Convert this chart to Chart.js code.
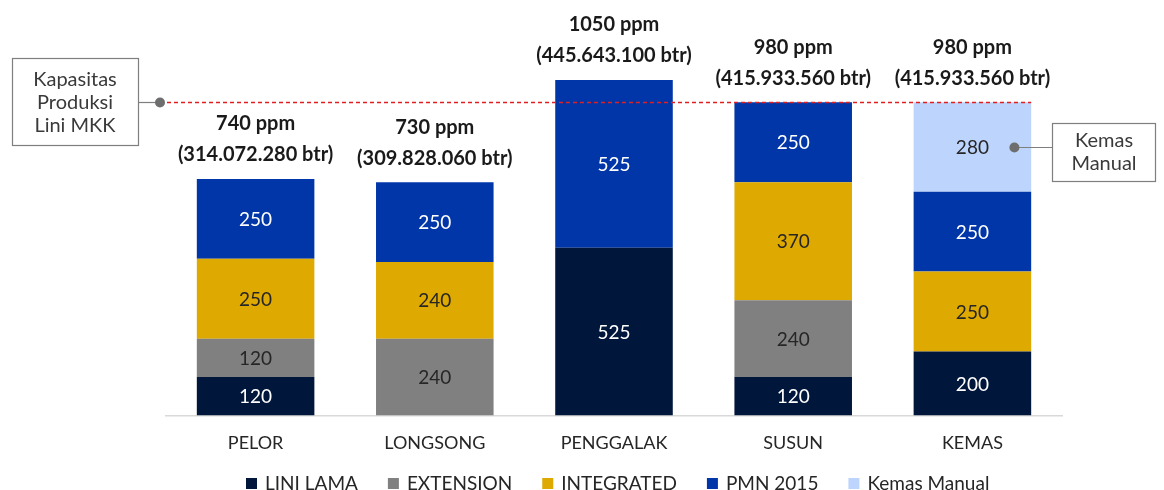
<!DOCTYPE html>
<html>
<head>
<meta charset="utf-8">
<script src="https://cdn.jsdelivr.net/npm/chart.js@4/dist/chart.umd.min.js"></script>
<style>
  html, body { margin: 0; padding: 0; background: #fff; }
  #wrap { width: 1164px; height: 490px; }
</style>
</head>
<body>
<div id="wrap"><canvas id="chart" width="1164" height="490"></canvas></div>
<script>
const categories = ["PELOR", "LONGSONG", "PENGGALAK", "SUSUN", "KEMAS"];
const liniLama = [120, 0, 525, 120, 200];
const extension = [120, 240, 0, 240, 0];
const integrated = [250, 240, 0, 370, 250];
const pmn2015 = [250, 250, 525, 250, 250];
const kemasManual = [0, 0, 0, 0, 280];
const totalLabels = ["740 ppm", "730 ppm", "1050 ppm", "980 ppm", "980 ppm"];
const bottleLabels = ["(314.072.280 btr)", "(309.828.060 btr)", "(445.643.100 btr)", "(415.933.560 btr)", "(415.933.560 btr)"];
const capacityLine = 980;

const FONT = "Lato, 'Open Sans', sans-serif";

const seriesDefs = [
  { label: "LINI LAMA", data: liniLama, color: "#00163a", text: "#ffffff" },
  { label: "EXTENSION", data: extension, color: "#808080", text: "#262626" },
  { label: "INTEGRATED", data: integrated, color: "#dea900", text: "#262626" },
  { label: "PMN 2015", data: pmn2015, color: "#0036a8", text: "#ffffff" },
  { label: "Kemas Manual", data: kemasManual, color: "#bdd5fd", text: "#262626" },
];

// labels inside bars, totals on top, capacity line, callouts and legend
const decorations = {
  id: "decorations",
  afterDatasetsDraw(chart) {
    const ctx = chart.ctx;
    const x = chart.scales.x;
    const y = chart.scales.y;
    ctx.save();
    ctx.textAlign = "center";
    ctx.textBaseline = "middle";

    chart.data.datasets.forEach((ds, i) => {
      const meta = chart.getDatasetMeta(i);
      meta.data.forEach((bar, j) => {
        if (!ds.data[j]) return;
        const mid = (bar.y + bar.base) / 2;
        ctx.font = "19px " + FONT;
        ctx.fillStyle = seriesDefs[i].text;
        ctx.fillText(String(ds.data[j]), bar.x, mid + 1);
      });
    });

    // totals above the stacks
    categories.forEach((c, j) => {
      let total = 0;
      seriesDefs.forEach(s => total += s.data[j]);
      const top = y.getPixelForValue(total);
      const cx = x.getPixelForValue(j);
      ctx.font = "bold 20px " + FONT;
      ctx.fillStyle = "#1a1a1a";
      ctx.fillText(totalLabels[j], cx, top - 55);
      ctx.fillText(bottleLabels[j], cx, top - 24);
    });

    // capacity line
    const ly = Math.round(y.getPixelForValue(capacityLine)) + 0.5;
    const lastMeta = chart.getDatasetMeta(0).data[categories.length - 1];
    const lineEnd = lastMeta.x + lastMeta.width / 2;
    ctx.strokeStyle = "#e02020";
    ctx.lineWidth = 1.3;
    ctx.setLineDash([4, 3]);
    ctx.beginPath();
    ctx.moveTo(160, ly);
    ctx.lineTo(lineEnd, ly);
    ctx.stroke();
    ctx.setLineDash([]);

    // left callout
    ctx.strokeStyle = "#7f7f7f";
    ctx.lineWidth = 1.2;
    ctx.fillStyle = "#ffffff";
    ctx.fillRect(12.5, 58.5, 126, 87);
    ctx.strokeRect(12.5, 58.5, 126, 87);
    ctx.beginPath();
    ctx.moveTo(138.5, ly);
    ctx.lineTo(160, ly);
    ctx.stroke();
    ctx.fillStyle = "#6e6e6e";
    ctx.beginPath();
    ctx.arc(160, ly, 5, 0, Math.PI * 2);
    ctx.fill();
    ctx.font = "20px " + FONT;
    ctx.fillStyle = "#3a3a3a";
    ctx.fillText("Kapasitas", 75, 80);
    ctx.fillText("Produksi", 75, 103);
    ctx.fillText("Lini MKK", 75, 126);

    // right callout
    const km = chart.getDatasetMeta(4).data[4];
    const ky = Math.round((km.y + km.base) / 2);
    const kx = km.x + 42;
    ctx.fillStyle = "#ffffff";
    ctx.fillRect(1052.5, 123.5, 103, 58);
    ctx.strokeStyle = "#7f7f7f";
    ctx.strokeRect(1052.5, 123.5, 103, 58);
    ctx.beginPath();
    ctx.moveTo(kx, ky + 0.5);
    ctx.lineTo(1052.5, ky + 0.5);
    ctx.stroke();
    ctx.fillStyle = "#6e6e6e";
    ctx.beginPath();
    ctx.arc(kx, ky + 0.5, 5, 0, Math.PI * 2);
    ctx.fill();
    ctx.fillStyle = "#3a3a3a";
    ctx.fillText("Kemas", 1104, 141);
    ctx.fillText("Manual", 1104, 164);

    // legend along the bottom
    ctx.font = "19px " + FONT;
    ctx.textAlign = "left";
    const box = 11, gapBox = 8, gapItem = 30;
    const widths = chart.data.datasets.map(ds => ctx.measureText(ds.label).width);
    let total = widths.reduce((a, w) => a + box + gapBox + w, 0) + gapItem * (widths.length - 1);
    let lx = Math.round(618 - total / 2);
    const legY = 483;
    chart.data.datasets.forEach((ds, i) => {
      ctx.fillStyle = ds.backgroundColor;
      ctx.fillRect(lx, legY - 5, box, box);
      ctx.fillStyle = "#262626";
      ctx.fillText(ds.label, lx + box + gapBox, legY + 1);
      lx += box + gapBox + widths[i] + gapItem;
    });
    ctx.restore();
  }
};

new Chart(document.getElementById("chart"), {
  type: "bar",
  data: {
    labels: categories,
    datasets: seriesDefs.map(s => ({
      label: s.label,
      data: s.data,
      backgroundColor: s.color,
      borderWidth: 0,
      categoryPercentage: 1,
      barPercentage: 0.656,
    })),
  },
  options: {
    responsive: false,
    animation: false,
    layout: { padding: { left: 166, right: 102, top: 0, bottom: 27 } },
    plugins: {
      legend: { display: false },
      tooltip: { enabled: false },
    },
    scales: {
      x: {
        stacked: true,
        grid: { display: false },
        border: { color: "#d9d9d9", width: 1.5 },
        ticks: { color: "#262626", font: { family: FONT, size: 18 }, padding: 9 },
      },
      y: {
        stacked: true,
        display: false,
        min: 0,
        max: 1300,
      },
    },
  },
  plugins: [decorations],
});
</script>
</body>
</html>
